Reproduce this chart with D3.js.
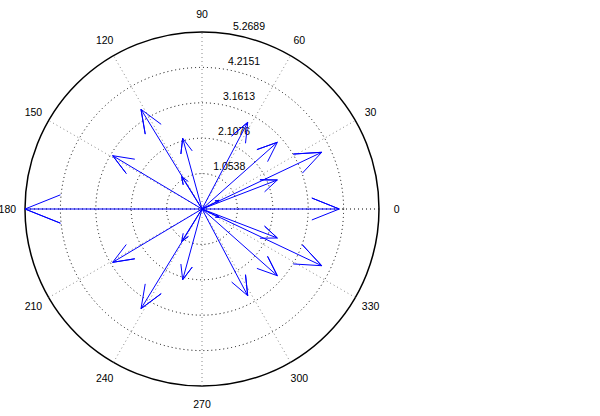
<!DOCTYPE html>
<html><head><meta charset="utf-8">
<script src="https://cdn.jsdelivr.net/npm/d3@7"></script>
<style>html,body{margin:0;padding:0;background:#fff;}svg{display:block;}</style>
</head><body>
<svg id="chart" width="600" height="416"></svg>
<script>
// Eigenvalue vectors (real and imaginary parts), drawn as compass arrows
const realParts = [-1.816, -1.816, -2.659, -2.659, -0.575, -0.575, 1.361, 1.361, 2.242, 2.242,
                   3.564, 3.564, 2.242, 2.242, -0.604, -0.604, 0.506, 0.506, 4.087, -5.2689];
const imagParts = [2.968, -2.968, 1.587, -1.587, 2.105, -2.105, 2.581, -2.581, 1.986, -1.986,
                   1.688, -1.688, 0.863, -0.863, 0.962, -0.962, 0.253, -0.253, 0, 0];
const ringLabels = ["1.0538", "2.1076", "3.1613", "4.2151", "5.2689"];
const ringValues = [1.0538, 2.1076, 3.1613, 4.2151, 5.2689];
const spokeAngles = [30, 60, 90, 120, 150, 180];
const angleLabels = ["30", "60", "90", "120", "150", "180", "210", "240", "270", "300", "330", "0"];

const rMax = 5.2689;
const cx = 202, cy = 209, R = 177;
const svg = d3.select("#chart");
const r = d3.scaleLinear().domain([0, rMax]).range([0, R]);
const g = svg.append("g").attr("transform", `translate(${cx},${cy})`);
const font = "'Liberation Sans', Arial, Helvetica, sans-serif";

// rings
g.selectAll("circle.ring").data(ringValues).join("circle")
  .attr("class", "ring")
  .attr("r", d => r(d))
  .attr("fill", "none")
  .attr("stroke", "#000")
  .attr("stroke-width", (d, i) => i === ringValues.length - 1 ? 1.5 : 1)
  .attr("stroke-dasharray", (d, i) => i === ringValues.length - 1 ? null : "1,3");

// spokes
g.selectAll("line.spoke").data(spokeAngles).join("line")
  .attr("class", "spoke")
  .attr("x1", d => -r(rMax) * Math.cos(d * Math.PI / 180))
  .attr("y1", d => r(rMax) * Math.sin(d * Math.PI / 180))
  .attr("x2", d => r(rMax) * Math.cos(d * Math.PI / 180))
  .attr("y2", d => -r(rMax) * Math.sin(d * Math.PI / 180))
  .attr("stroke", d => d === 180 ? "#000" : "#888")
  .attr("stroke-width", 1)
  .attr("stroke-dasharray", "1,3");

// ring labels at 82 degrees
const a82 = 82 * Math.PI / 180;
g.selectAll("text.rlab").data(ringValues).join("text")
  .attr("class", "rlab")
  .attr("x", d => (r(d) + r(rMax) / 5 / 20) * Math.cos(a82) + 6)
  .attr("y", d => -(r(d) + r(rMax) / 5 / 20) * Math.sin(a82) - 2)
  .attr("font-family", font).attr("font-size", 10.5).attr("fill", "#000")
  .text((d, i) => ringLabels[i]);

// angle labels
const rt = 1.1 * r(rMax);
g.selectAll("text.alab").data(angleLabels).join("text")
  .attr("class", "alab")
  .attr("x", (d, i) => rt * Math.cos((i + 1) * 30 * Math.PI / 180))
  .attr("y", (d, i) => -rt * Math.sin((i + 1) * 30 * Math.PI / 180))
  .attr("text-anchor", "middle").attr("dominant-baseline", "central")
  .attr("font-family", font).attr("font-size", 10.5).attr("fill", "#000")
  .text(d => d);

// arrows
const vecs = realParts.map((re, i) => ({re, im: imagParts[i]}));
const shape = [[0, 0], [1, 0], [0.8, 0.08], [1, 0], [0.8, -0.08]];
const line = d3.line().x(p => r(p[0])).y(p => -r(p[1]));
g.selectAll("path.arrow").data(vecs).join("path")
  .attr("class", "arrow")
  .attr("d", v => line(shape.map(([a, b]) => [a * v.re - b * v.im, a * v.im + b * v.re])))
  .attr("fill", "none")
  .attr("stroke", "#0000ff")
  .attr("stroke-width", 1);
</script>
</body></html>
